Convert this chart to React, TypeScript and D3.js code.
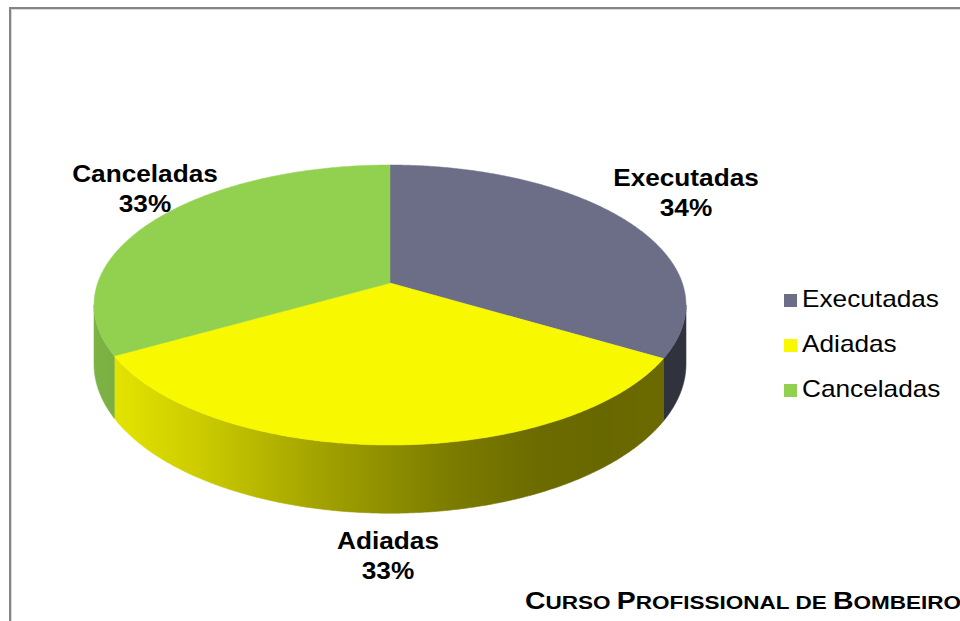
import React from "react";
import * as d3 from "d3";

const categories = ["Executadas", "Adiadas", "Canceladas"];
const values = [33.5, 33.3, 33.2];
const topColors = ["#6b6e86", "#f8f800", "#92d050"];
const sideShade = [1.05, 1.0, 0.92];
const titleWords = [
  { big: "C", small: "URSO" },
  { big: "P", small: "ROFISSIONAL" },
  { big: "", small: "DE" },
  { big: "B", small: "OMBEIRO" },
];

const W = 960;
const H = 621;
const CX = 390;
const CY = 305;
const A = 292.3;
const B = 140;
const K = 0.157;
const C0 = -B * K;
const DEPTH = 57.5;
const SX = 1.14;
const FONT = "'Liberation Sans', Arial, Helvetica, sans-serif";

function proj(phi: number, r = 1): [number, number, number] {
  const u = r * Math.sin(phi);
  const v = -r * Math.cos(phi);
  const w = 1 - K * v;
  return [CX + (A * u) / w, CY + (B * v + C0) / w, w];
}

function arcPts(a0: number, a1: number) {
  const n = Math.max(2, Math.ceil(((a1 - a0) * 180) / Math.PI / 0.5));
  const pts: [number, number, number][] = [];
  for (let i = 0; i <= n; i++) pts.push(proj(a0 + ((a1 - a0) * i) / n));
  return pts;
}

const shadeStops = [
  [94, 0.93],
  [120, 0.91],
  [200, 0.82],
  [330, 0.64],
  [450, 0.5],
  [540, 0.43],
  [600, 0.42],
  [686, 0.43],
];

function STxt(props: any) {
  const { x, y, children, anchor = "middle", size = 23, weight = "normal" } = props;
  return (
    <text
      transform={`translate(${x},${y}) scale(${SX},1)`}
      textAnchor={anchor}
      fontFamily={FONT}
      fontSize={size}
      fontWeight={weight}
      fill="#000"
    >
      {children}
    </text>
  );
}

export default function App() {
  const pie = d3.pie<number>().sort(null).value((d) => d);
  const arcs = pie(values);
  const total = d3.sum(values);
  const frontA = Math.acos(-K);
  const frontB = 2 * Math.PI - frontA;
  const center = proj(0, 0);

  // label anchors (layout only)
  const labelPos: [number, number][] = [
    [686, 186],
    [388, 549],
    [145, 182],
  ];

  return (
    <svg
      width={W}
      height={H}
      viewBox={`0 0 ${W} ${H}`}
      style={{ position: "absolute", left: 0, top: 0, background: "#fff" }}
    >
      <defs>
        {arcs.map((a, i) => {
          const col = d3.rgb(topColors[i]);
          return (
            <linearGradient
              key={i}
              id={`side${i}`}
              gradientUnits="userSpaceOnUse"
              x1={94}
              x2={686}
              y1={0}
              y2={0}
            >
              {shadeStops.map(([x, f], j) => {
                const k = Math.min(1, f * sideShade[i]);
                const c = d3.rgb(col.r * k, col.g * k, col.b * k);
                return (
                  <stop key={j} offset={(x - 94) / (686 - 94)} stopColor={c.formatHex()} />
                );
              })}
            </linearGradient>
          );
        })}
      </defs>
      <rect x={0} y={0} width={W} height={H} fill="#fff" />
      {/* frame */}
      <line x1={9} y1={8} x2={W} y2={8} stroke="#858585" strokeWidth={2} />
      <line x1={10} y1={7} x2={10} y2={H} stroke="#858585" strokeWidth={2} />
      <line x1={11} y1={9.5} x2={W} y2={9.5} stroke="#d9d9d9" strokeWidth={1} />
      <line x1={11.5} y1={9} x2={11.5} y2={H} stroke="#d9d9d9" strokeWidth={1} />

      {/* side walls */}
      {arcs.map((a, i) => {
        const s = Math.max(a.startAngle, frontA);
        const e = Math.min(a.endAngle, frontB);
        if (e <= s) return null;
        const top = arcPts(s, e);
        const bottom = top.map(([x, y, w]) => [x, y + DEPTH / w] as [number, number]).reverse();
        const d =
          "M" +
          top.map((p) => `${p[0]},${p[1]}`).join("L") +
          "L" +
          bottom.map((p) => `${p[0]},${p[1]}`).join("L") +
          "Z";
        return <path key={`w${i}`} d={d} fill={`url(#side${i})`} stroke={`url(#side${i})`} strokeWidth={0.6} />;
      })}

      {/* top faces */}
      {arcs.map((a, i) => {
        const pts = arcPts(a.startAngle, a.endAngle);
        const d =
          `M${center[0]},${center[1]}L` + pts.map((p) => `${p[0]},${p[1]}`).join("L") + "Z";
        return <path key={`t${i}`} d={d} fill={topColors[i]} stroke={topColors[i]} strokeWidth={0.5} />;
      })}

      {/* data labels */}
      {arcs.map((a, i) => (
        <g key={`l${i}`}>
          <STxt x={labelPos[i][0]} y={labelPos[i][1]} weight="bold">
            {categories[i]}
          </STxt>
          <STxt x={labelPos[i][0]} y={labelPos[i][1] + 30} weight="bold">
            {`${Math.round((a.value / total) * 100)}%`}
          </STxt>
        </g>
      ))}

      {/* legend */}
      {categories.map((c, i) => (
        <g key={`lg${i}`}>
          <rect x={784} y={294 + i * 45} width={13} height={13} fill={topColors[i]} />
          <STxt x={802} y={307 + i * 45} anchor="start">
            {c}
          </STxt>
        </g>
      ))}

      {/* footer title */}
      <text
        x={525}
        y={609}
        fontFamily={FONT}
        fontWeight="bold"
        fill="#000"
        textLength={436}
        lengthAdjust="spacingAndGlyphs"
      >
        {titleWords.map((w, i) => (
          <React.Fragment key={i}>
            {w.big ? <tspan fontSize={24}>{w.big}</tspan> : null}
            <tspan fontSize={19}>{w.small + (i < titleWords.length - 1 ? " " : "")}</tspan>
          </React.Fragment>
        ))}
      </text>
    </svg>
  );
}
